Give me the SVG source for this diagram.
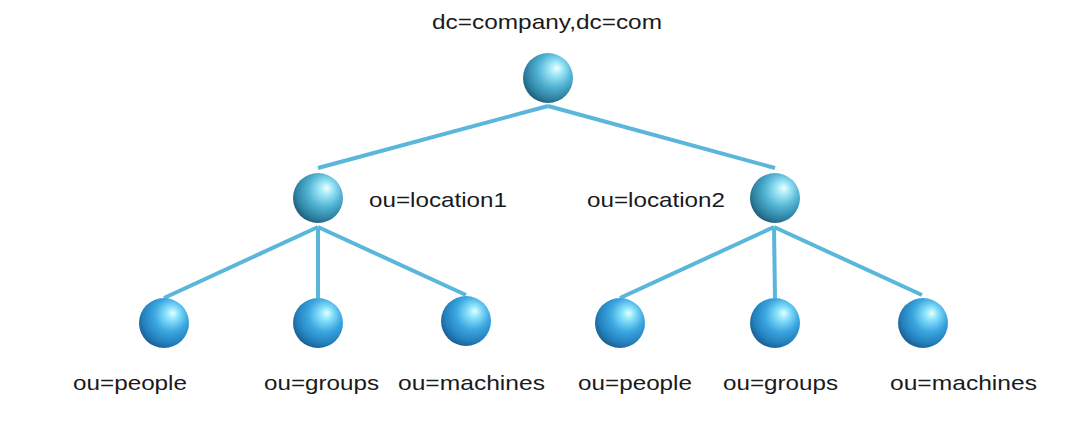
<svg xmlns="http://www.w3.org/2000/svg" width="1088" height="434" viewBox="0 0 1088 434">
  <style>
    .lbl { font-family: "Liberation Sans", Arial, sans-serif; font-size: 21px; fill: #1a1a1a; }
    .edge { stroke: #5ab6da; stroke-width: 4; stroke-linecap: butt; fill: none; }
  </style>
  <defs>
    <radialGradient id="gTeal" cx="0.6" cy="0.38" r="0.68" fx="0.68" fy="0.3">
      <stop offset="0" stop-color="#f0ffff"/>
      <stop offset="0.2" stop-color="#9fe6f6"/>
      <stop offset="0.5" stop-color="#52b4d4"/>
      <stop offset="0.8" stop-color="#2f84a4"/>
      <stop offset="1" stop-color="#1c5670"/>
    </radialGradient>
    <radialGradient id="gBlue" cx="0.6" cy="0.38" r="0.68" fx="0.68" fy="0.3">
      <stop offset="0" stop-color="#e4ffff"/>
      <stop offset="0.2" stop-color="#86e0fb"/>
      <stop offset="0.5" stop-color="#3ba6e0"/>
      <stop offset="0.8" stop-color="#2380bc"/>
      <stop offset="1" stop-color="#1a5688"/>
    </radialGradient>
  </defs>
  <rect width="1088" height="434" fill="#ffffff"/>
  <g id="connectors">
    <line class="edge" x1="548" y1="106" x2="318" y2="168"/>
    <line class="edge" x1="548" y1="106" x2="775" y2="168"/>
    <line class="edge" x1="318" y1="227" x2="164" y2="298"/>
    <line class="edge" x1="318" y1="227" x2="318" y2="298"/>
    <line class="edge" x1="318" y1="227" x2="466" y2="295"/>
    <line class="edge" x1="774" y1="227" x2="620" y2="298"/>
    <line class="edge" x1="774" y1="227" x2="775" y2="298"/>
    <line class="edge" x1="774" y1="227" x2="922" y2="295"/>
  </g>
  <g id="root">
    <circle cx="548" cy="78" r="25" fill="url(#gTeal)"/>
    <text class="lbl" x="432" y="29" textLength="230" lengthAdjust="spacingAndGlyphs">dc=company,dc=com</text>
  </g>
  <g id="location1">
    <circle cx="318" cy="198" r="25" fill="url(#gTeal)"/>
    <text class="lbl" x="369" y="207" textLength="138" lengthAdjust="spacingAndGlyphs">ou=location1</text>
  </g>
  <g id="location2">
    <circle cx="775" cy="198" r="25" fill="url(#gTeal)"/>
    <text class="lbl" x="587" y="207" textLength="138" lengthAdjust="spacingAndGlyphs">ou=location2</text>
  </g>
  <g id="people1">
    <circle cx="164" cy="323" r="25" fill="url(#gBlue)"/>
    <text class="lbl" x="73" y="390" textLength="114" lengthAdjust="spacingAndGlyphs">ou=people</text>
  </g>
  <g id="groups1">
    <circle cx="318" cy="323" r="25" fill="url(#gBlue)"/>
    <text class="lbl" x="264" y="390" textLength="115" lengthAdjust="spacingAndGlyphs">ou=groups</text>
  </g>
  <g id="machines1">
    <circle cx="466" cy="321" r="25" fill="url(#gBlue)"/>
    <text class="lbl" x="398" y="390" textLength="147" lengthAdjust="spacingAndGlyphs">ou=machines</text>
  </g>
  <g id="people2">
    <circle cx="620" cy="323" r="25" fill="url(#gBlue)"/>
    <text class="lbl" x="578" y="390" textLength="114" lengthAdjust="spacingAndGlyphs">ou=people</text>
  </g>
  <g id="groups2">
    <circle cx="775" cy="323" r="25" fill="url(#gBlue)"/>
    <text class="lbl" x="723" y="390" textLength="115" lengthAdjust="spacingAndGlyphs">ou=groups</text>
  </g>
  <g id="machines2">
    <circle cx="923" cy="323" r="25" fill="url(#gBlue)"/>
    <text class="lbl" x="890" y="390" textLength="147" lengthAdjust="spacingAndGlyphs">ou=machines</text>
  </g>
</svg>
